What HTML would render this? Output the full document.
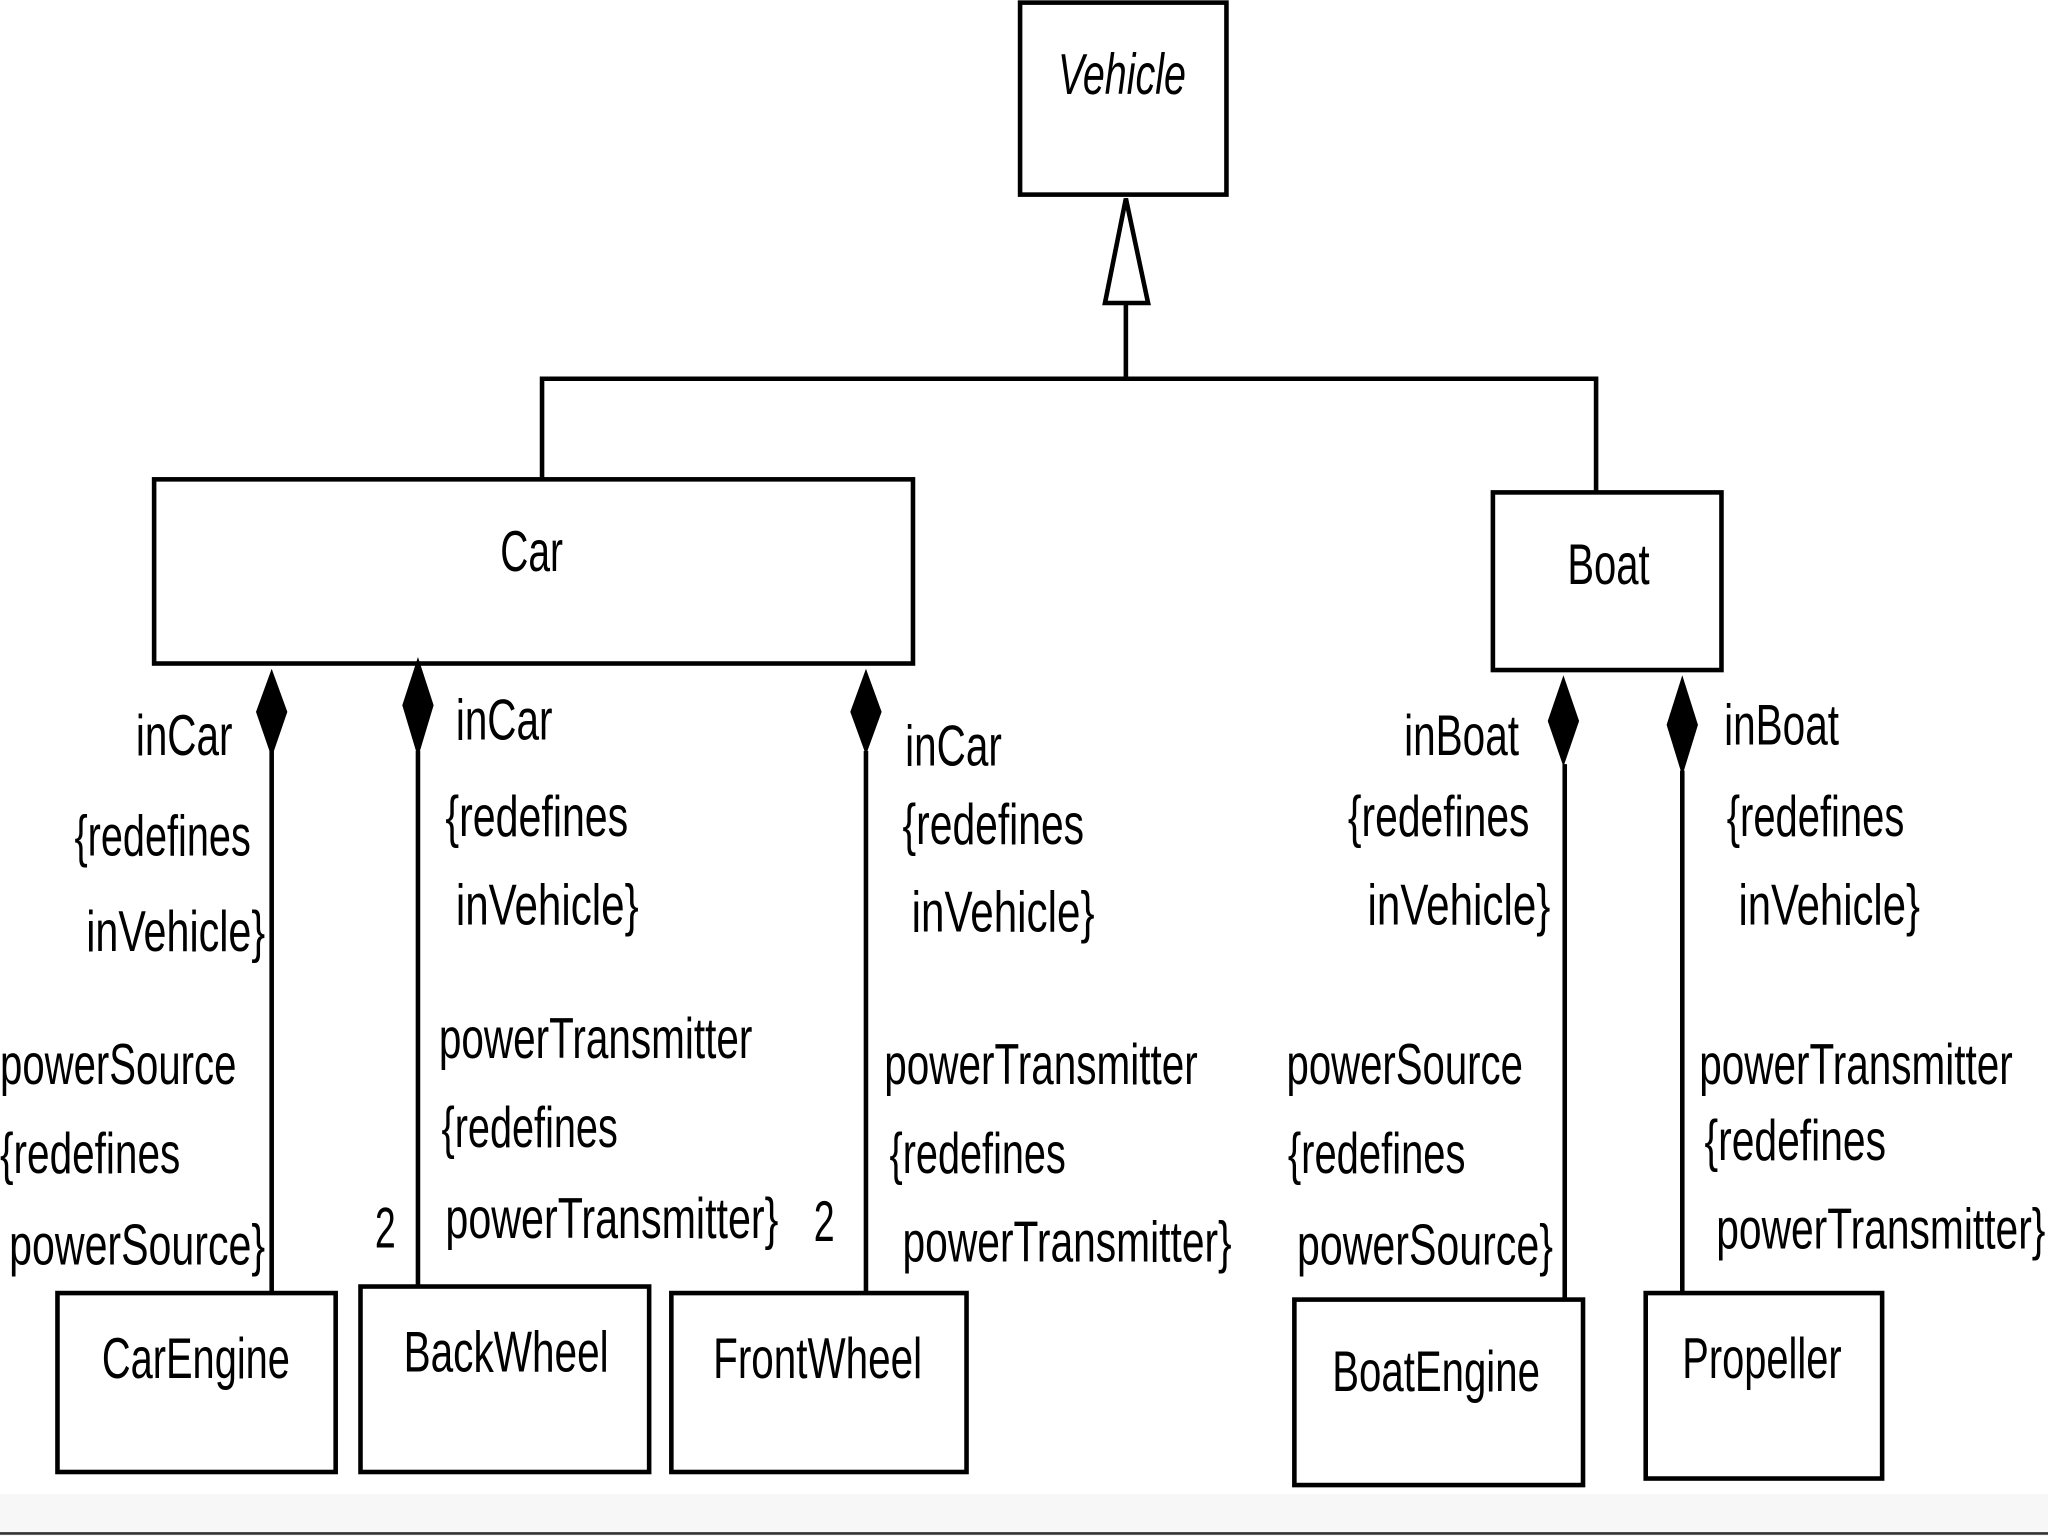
<!DOCTYPE html>
<html><head><meta charset="utf-8"><style>
html,body{margin:0;padding:0;background:#fff;width:2048px;height:1536px;overflow:hidden}
svg{display:block}
text{font-family:"Liberation Sans",sans-serif;font-size:44px;fill:#000}
</style></head><body>
<svg width="2048" height="1536" viewBox="0 0 1568 1176" xmlns="http://www.w3.org/2000/svg">
<rect x="0" y="1144" width="1568" height="32" fill="#f7f7f7"/>
<line x1="0" y1="1174" x2="1568" y2="1174" stroke="#333" stroke-width="2"/>
<g fill="none" stroke="#000" stroke-width="3.5">
<rect x="781" y="2" width="158" height="147"/>
<rect x="118" y="367" width="581" height="141"/>
<rect x="1143" y="377" width="175" height="136"/>
<rect x="44" y="990" width="213" height="137"/>
<rect x="276" y="985" width="221" height="142"/>
<rect x="514" y="990" width="226" height="137"/>
<rect x="991" y="995" width="221" height="142"/>
<rect x="1260" y="990" width="181" height="142"/>
<polyline points="862,232 862,290"/>
<polyline points="415,367 415,290 1222,290 1222,377"/>
<polygon points="862,152 879,232 846,232" fill="#fff"/>
<line x1="208" y1="575" x2="208" y2="990"/>
<line x1="320" y1="575" x2="320" y2="985"/>
<line x1="663" y1="575" x2="663" y2="990"/>
<line x1="1198" y1="585" x2="1198" y2="995"/>
<line x1="1288" y1="590" x2="1288" y2="990"/>
</g>
<g fill="#000">
<polygon points="208,512 220,545 208,580 196,545"/>
<polygon points="320,503 332,540 320,580 308,540"/>
<polygon points="663,512 675,545 663,578 651,545"/>
<polygon points="1197,517 1209,552 1197,587 1185,552"/>
<polygon points="1288,517 1300,555 1288,594 1276,555"/>
</g>
<g lengthAdjust="spacingAndGlyphs">
<text x="810" y="72" textLength="98" lengthAdjust="spacingAndGlyphs" font-style="italic">Vehicle</text>
<text x="383" y="437" textLength="48" lengthAdjust="spacingAndGlyphs">Car</text>
<text x="1200" y="447" textLength="63" lengthAdjust="spacingAndGlyphs">Boat</text>
<text x="78" y="1055" textLength="144" lengthAdjust="spacingAndGlyphs">CarEngine</text>
<text x="309" y="1050" textLength="157" lengthAdjust="spacingAndGlyphs">BackWheel</text>
<text x="546" y="1055" textLength="160" lengthAdjust="spacingAndGlyphs">FrontWheel</text>
<text x="1020" y="1065" textLength="159" lengthAdjust="spacingAndGlyphs">BoatEngine</text>
<text x="1288" y="1055" textLength="122" lengthAdjust="spacingAndGlyphs">Propeller</text>

<text x="104" y="578" textLength="74" lengthAdjust="spacingAndGlyphs">inCar</text>
<text x="57" y="655" textLength="135" lengthAdjust="spacingAndGlyphs">{redefines</text>
<text x="66" y="728" textLength="137" lengthAdjust="spacingAndGlyphs">inVehicle}</text>
<text x="0" y="830" textLength="181" lengthAdjust="spacingAndGlyphs">powerSource</text>
<text x="0" y="898" textLength="138" lengthAdjust="spacingAndGlyphs">{redefines</text>
<text x="7" y="968" textLength="196" lengthAdjust="spacingAndGlyphs">powerSource}</text>
<text x="287" y="955" textLength="16" lengthAdjust="spacingAndGlyphs">2</text>

<text x="349" y="566" textLength="74" lengthAdjust="spacingAndGlyphs">inCar</text>
<text x="341" y="640" textLength="140" lengthAdjust="spacingAndGlyphs">{redefines</text>
<text x="349" y="708" textLength="140" lengthAdjust="spacingAndGlyphs">inVehicle}</text>
<text x="336" y="810" textLength="240" lengthAdjust="spacingAndGlyphs">powerTransmitter</text>
<text x="338" y="878" textLength="135" lengthAdjust="spacingAndGlyphs">{redefines</text>
<text x="341" y="948" textLength="255" lengthAdjust="spacingAndGlyphs">powerTransmitter}</text>
<text x="623" y="950" textLength="16" lengthAdjust="spacingAndGlyphs">2</text>

<text x="693" y="586" textLength="74" lengthAdjust="spacingAndGlyphs">inCar</text>
<text x="691" y="646" textLength="139" lengthAdjust="spacingAndGlyphs">{redefines</text>
<text x="698" y="713" textLength="140" lengthAdjust="spacingAndGlyphs">inVehicle}</text>
<text x="677" y="830" textLength="240" lengthAdjust="spacingAndGlyphs">powerTransmitter</text>
<text x="681" y="898" textLength="135" lengthAdjust="spacingAndGlyphs">{redefines</text>
<text x="691" y="966" textLength="252" lengthAdjust="spacingAndGlyphs">powerTransmitter}</text>

<text x="1075" y="578" textLength="88" lengthAdjust="spacingAndGlyphs">inBoat</text>
<text x="1032" y="640" textLength="139" lengthAdjust="spacingAndGlyphs">{redefines</text>
<text x="1047" y="708" textLength="140" lengthAdjust="spacingAndGlyphs">inVehicle}</text>
<text x="985" y="830" textLength="181" lengthAdjust="spacingAndGlyphs">powerSource</text>
<text x="986" y="898" textLength="136" lengthAdjust="spacingAndGlyphs">{redefines</text>
<text x="993" y="968" textLength="196" lengthAdjust="spacingAndGlyphs">powerSource}</text>

<text x="1320" y="570" textLength="88" lengthAdjust="spacingAndGlyphs">inBoat</text>
<text x="1322" y="640" textLength="136" lengthAdjust="spacingAndGlyphs">{redefines</text>
<text x="1331" y="708" textLength="139" lengthAdjust="spacingAndGlyphs">inVehicle}</text>
<text x="1301" y="830" textLength="240" lengthAdjust="spacingAndGlyphs">powerTransmitter</text>
<text x="1305" y="888" textLength="139" lengthAdjust="spacingAndGlyphs">{redefines</text>
<text x="1314" y="956" textLength="252" lengthAdjust="spacingAndGlyphs">powerTransmitter}</text>
</g>
</svg>
</body></html>
